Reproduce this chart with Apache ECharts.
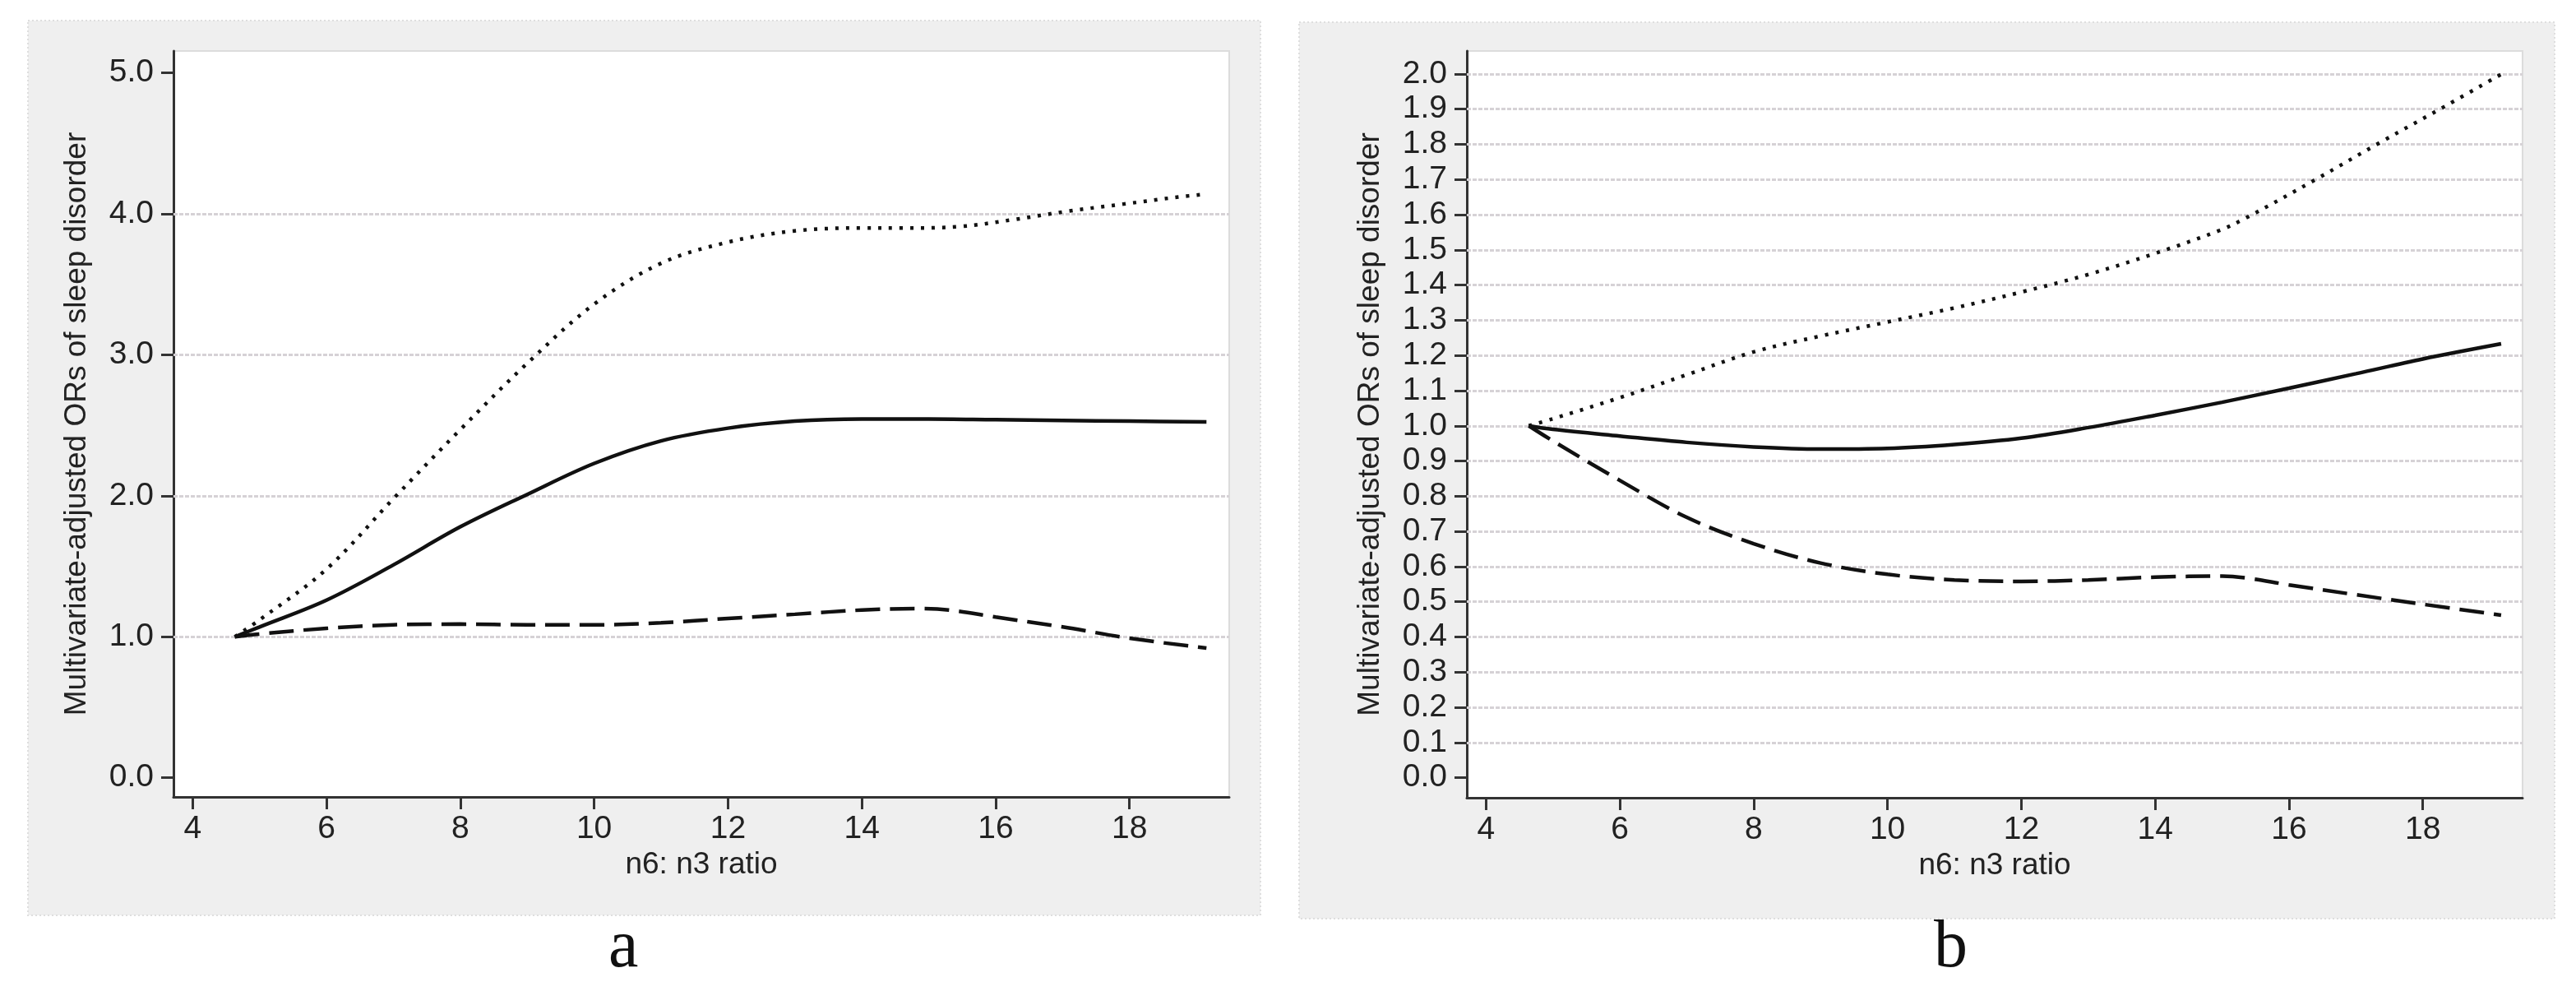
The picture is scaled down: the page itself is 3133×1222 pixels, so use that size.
<!DOCTYPE html>
<html>
<head>
<meta charset="utf-8">
<script src="https://cdn.jsdelivr.net/npm/echarts@6/dist/echarts.min.js"></script>
<style>
html,body{margin:0;padding:0;background:#fff;}
#c{width:3133px;height:1222px;}
</style>
</head>
<body>
<div id="c"></div>
<script>
// ---------- data ----------
const xTicks = [4, 6, 8, 10, 12, 14, 16, 18];
const yTicksA = [0, 1, 2, 3, 4, 5];
const yTicksB = [0, 0.1, 0.2, 0.3, 0.4, 0.5, 0.6, 0.7, 0.8, 0.9, 1.0, 1.1, 1.2, 1.3, 1.4, 1.5, 1.6, 1.7, 1.8, 1.9, 2.0];
const gridLinesA = [1, 2, 3, 4];
const gridLinesB = [0.1, 0.2, 0.3, 0.4, 0.5, 0.6, 0.7, 0.8, 0.9, 1.0, 1.1, 1.2, 1.3, 1.4, 1.5, 1.6, 1.7, 1.8, 1.9, 2.0];

// Panel a
const aSolidX = [4.63, 5, 6, 7, 8, 9, 10, 11, 12, 13, 14, 15, 16, 17, 18, 19.15];
const aSolidY = [1.0, 1.07, 1.26, 1.51, 1.78, 2.01, 2.23, 2.39, 2.48, 2.53, 2.545, 2.545, 2.54, 2.535, 2.53, 2.525];
const aUpperX = [4.63, 5, 6, 7, 8, 9, 10, 11, 12, 13, 14, 14.6, 15.45, 16.27, 17.09, 17.91, 18.73, 19.14];
const aUpperY = [1.0, 1.12, 1.48, 1.98, 2.47, 2.94, 3.36, 3.65, 3.80, 3.88, 3.90, 3.90, 3.91, 3.96, 4.02, 4.07, 4.12, 4.14];
const aLowerX = [4.63, 5, 6, 7, 8, 9, 10, 11, 12, 13, 14, 14.8, 15.3, 16, 17, 18, 19.15];
const aLowerY = [1.0, 1.02, 1.06, 1.085, 1.09, 1.085, 1.085, 1.10, 1.13, 1.16, 1.19, 1.20, 1.19, 1.14, 1.07, 0.99, 0.92];

// Panel b
const bSolidX = [4.64, 5, 6, 7, 8, 9, 10, 11, 12, 13, 14, 15, 16, 17, 18, 19.17];
const bSolidY = [1.0, 0.99, 0.971, 0.953, 0.94, 0.934, 0.936, 0.947, 0.965, 0.995, 1.03, 1.067, 1.107, 1.148, 1.19, 1.233];
const bUpperX = [4.64, 5, 6, 7, 8, 9, 10, 11, 12, 13, 14, 14.96, 15.35, 16.4, 17.38, 18.36, 19.18];
const bUpperY = [1.0, 1.02, 1.08, 1.145, 1.21, 1.255, 1.295, 1.335, 1.38, 1.43, 1.49, 1.555, 1.59, 1.70, 1.807, 1.911, 2.0];
const bLowerX = [4.64, 5, 6, 7, 8, 9, 10, 11, 12, 13, 14, 15, 15.35, 16, 17, 18, 19.17];
const bLowerY = [1.0, 0.957, 0.845, 0.74, 0.665, 0.61, 0.578, 0.562, 0.558, 0.562, 0.57, 0.573, 0.568, 0.548, 0.52, 0.493, 0.462];

const xTitle = 'n6: n3 ratio';
const yTitle = 'Multivariate-adjusted ORs of sleep disorder';
const panelLabels = ['a', 'b'];

// ---------- helpers ----------
const zip = (xs, ys) => xs.map((x, i) => [x, ys[i]]);
const FONT = "'Liberation Sans', Arial, sans-serif";
const AX = '#333';

function xAxisCfg(idx) {
  return {
    type: 'value', gridIndex: idx, min: 3.714, max: 19.49,
    name: xTitle, nameLocation: 'middle', nameGap: 57,
    nameTextStyle: { fontFamily: FONT, fontSize: 37, color: '#222' },
    axisLine: { onZero: false, lineStyle: { color: AX, width: 3 } },
    axisTick: { show: true, length: 15, lineStyle: { color: AX, width: 3 }, customValues: xTicks },
    axisLabel: { fontFamily: FONT, fontSize: 39, color: '#222', margin: 20, customValues: xTicks },
    splitLine: { show: false }
  };
}
function yAxisCfg(idx, mn, mx, ticks) {
  return {
    type: 'value', gridIndex: idx, min: mn, max: mx,
    name: yTitle, nameLocation: 'middle', nameRotate: 90, nameGap: 99,
    nameTextStyle: { fontFamily: FONT, fontSize: 37, color: '#222' },
    axisLine: { onZero: false, lineStyle: { color: AX, width: 3 } },
    axisTick: { show: true, length: 15, lineStyle: { color: AX, width: 3 }, customValues: ticks },
    axisLabel: { fontFamily: FONT, fontSize: 39, color: '#222', margin: 24, customValues: ticks,
      formatter: v => Number(v).toFixed(1) },
    splitLine: { show: false }
  };
}
function line(idx, data, type, extra) {
  const ls = { color: '#111', width: 4.5 };
  if (type === 'dashed') { ls.type = [30, 12]; ls.width = 4.5; }
  if (type === 'dotted') { ls.type = [4, 9]; ls.width = 4.5; ls.cap = 'butt'; }
  return Object.assign({
    type: 'line', xAxisIndex: idx, yAxisIndex: idx, data: data,
    smooth: 0.35, showSymbol: false, symbol: 'none', lineStyle: ls, z: 5, animation: false
  }, extra || {});
}
function gridMark(vals) {
  return {
    silent: true, symbol: 'none', animation: false,
    label: { show: false },
    lineStyle: { color: '#d6d2d6', width: 3, type: [5, 2] },
    data: vals.map(v => ({ yAxis: v }))
  };
}

const chart = echarts.init(document.getElementById('c'), null, { renderer: 'canvas' });
chart.setOption({
  backgroundColor: '#ffffff',
  animation: false,
  graphic: [
    { type: 'rect', z: -10, shape: { x: 34, y: 25, width: 1499, height: 1088 },
      style: { fill: '#efefef', stroke: '#dedede', lineWidth: 2, lineDash: [2, 3] } },
    { type: 'rect', z: -10, shape: { x: 1580, y: 27, width: 1527, height: 1090 },
      style: { fill: '#efefef', stroke: '#dedede', lineWidth: 2, lineDash: [2, 3] } },
    { type: 'text', left: 740, top: 1112,
      style: { text: panelLabels[0], font: "82px 'Liberation Serif', 'DejaVu Serif', serif", fill: '#111' } },
    { type: 'text', left: 2352, top: 1112,
      style: { text: panelLabels[1], font: "82px 'Liberation Serif', 'DejaVu Serif', serif", fill: '#111' } }
  ],
  grid: [
    { left: 211, top: 62, width: 1284, height: 907, show: true, backgroundColor: '#fff', borderColor: '#dcdcdc', borderWidth: 2 },
    { left: 1784, top: 62, width: 1284, height: 908, show: true, backgroundColor: '#fff', borderColor: '#dcdcdc', borderWidth: 2 }
  ],
  xAxis: [xAxisCfg(0), xAxisCfg(1)],
  yAxis: [yAxisCfg(0, -0.136, 5.156, yTicksA), yAxisCfg(1, -0.0568, 2.065, yTicksB)],
  series: [
    line(0, zip(aSolidX, aSolidY), 'solid', { markLine: gridMark(gridLinesA) }),
    line(0, zip(aUpperX, aUpperY), 'dotted'),
    line(0, zip(aLowerX, aLowerY), 'dashed'),
    line(1, zip(bSolidX, bSolidY), 'solid', { markLine: gridMark(gridLinesB) }),
    line(1, zip(bUpperX, bUpperY), 'dotted'),
    line(1, zip(bLowerX, bLowerY), 'dashed')
  ]
});
</script>
</body>
</html>
